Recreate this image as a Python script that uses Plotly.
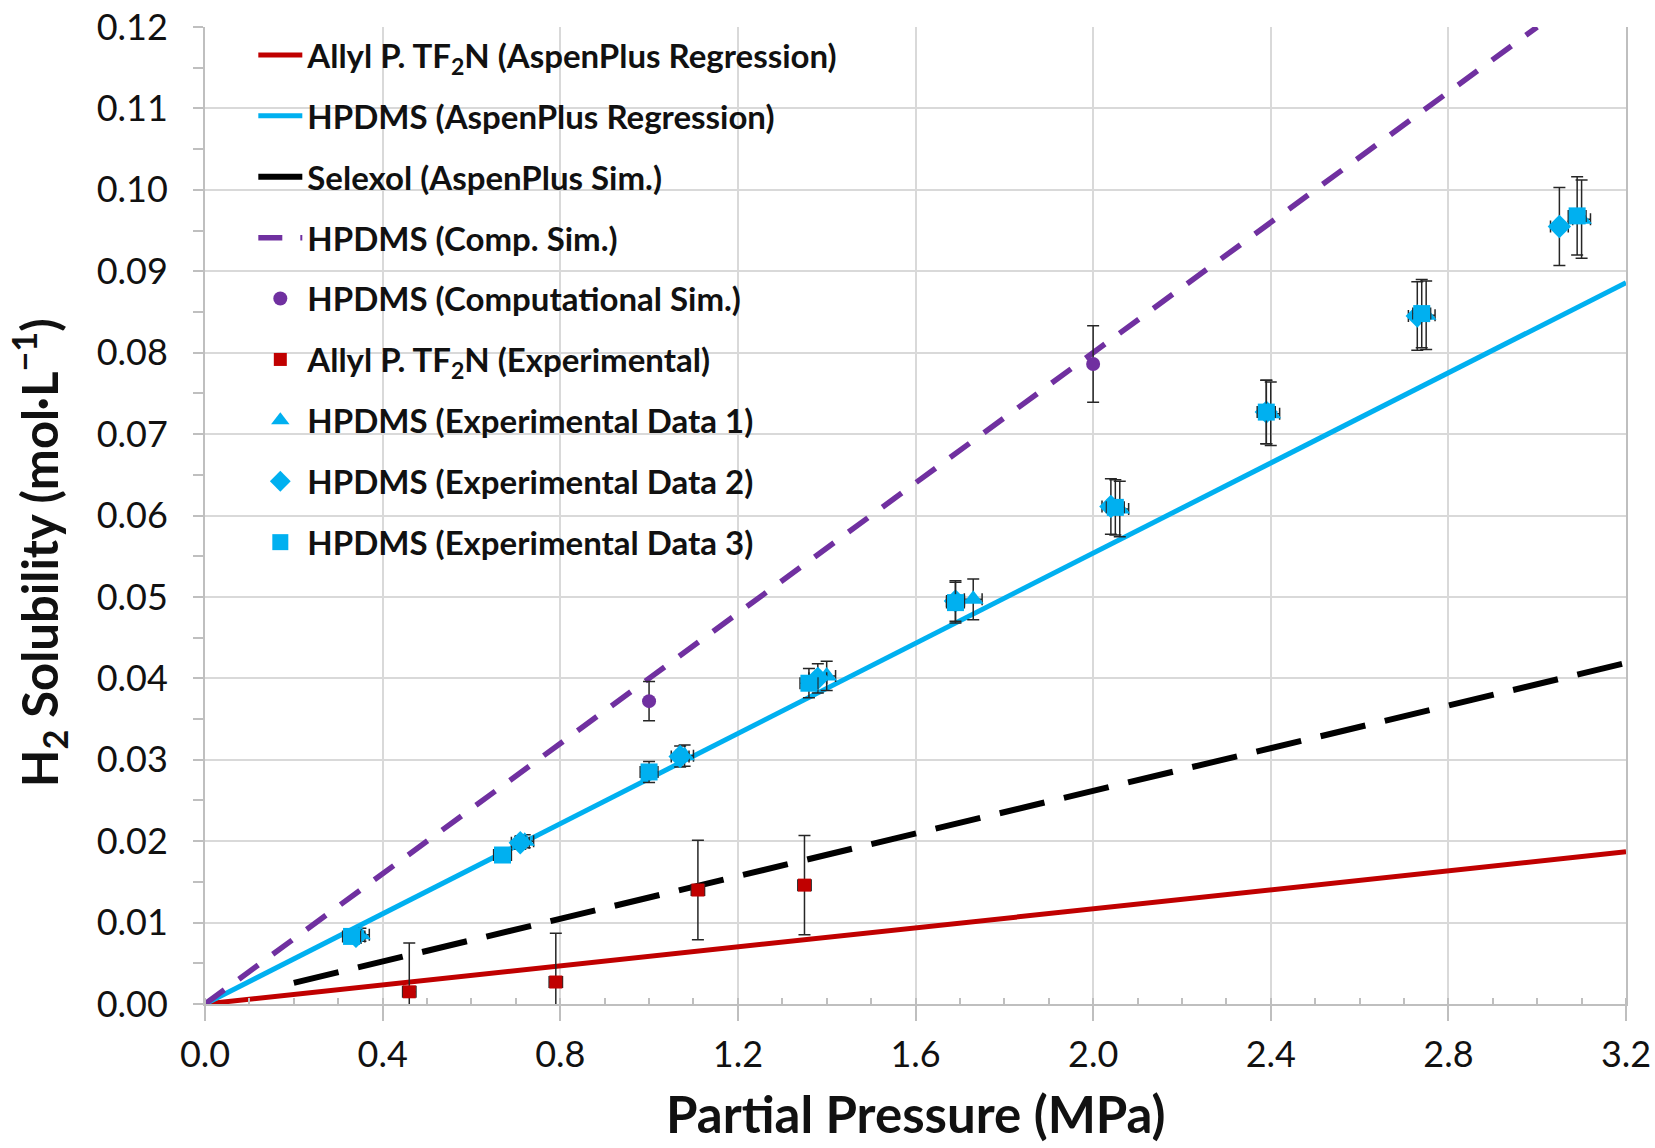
import plotly.graph_objects as go

# ---- data ----
allyl_reg_x = [0.0, 3.2]
allyl_reg_y = [0.0, 0.0187]
hpdms_reg_x = [0.0, 3.2]
hpdms_reg_y = [0.0, 0.0886]
selexol_x = [0.2, 3.2]
selexol_y = [0.0026, 0.0419]
comp_line_x = [0.0, 3.0]
comp_line_y = [0.0, 0.12]

comp_pts_x = [1.0, 2.0]
comp_pts_y = [0.0372, 0.0786]
comp_pts_err = [0.0024, 0.0047]

allyl_exp_x = [0.46, 0.79, 1.11, 1.35]
allyl_exp_y = [0.0015, 0.0027, 0.0140, 0.0146]
allyl_exp_yerr = [0.0060, 0.0060, 0.0061, 0.0061]
allyl_exp_xerr = [0.015, 0.015, 0.015, 0.015]

d1_x = [0.35, 0.72, 1.08, 1.40, 1.73, 2.06, 2.40, 2.75, 3.10]
d1_y = [0.0085, 0.0200, 0.0305, 0.0403, 0.0497, 0.0608, 0.0725, 0.0846, 0.0964]
d2_x = [0.34, 0.71, 1.07, 1.38, 1.69, 2.04, 2.39, 2.73, 3.05]
d2_y = [0.0083, 0.0198, 0.0304, 0.0400, 0.0495, 0.0611, 0.0727, 0.0845, 0.0955]
d3_x = [0.33, 0.67, 1.00, 1.36, 1.69, 2.05, 2.39, 2.74, 3.09]
d3_y = [0.0083, 0.0183, 0.0285, 0.0394, 0.0493, 0.0610, 0.0727, 0.0848, 0.0968]
d_yerr = [0.0008, 0.0008, 0.0013, 0.0018, 0.0025, 0.0034, 0.0039, 0.0042, 0.0048]
d_xerr = [0.02, 0.02, 0.02, 0.02, 0.02, 0.02, 0.02, 0.02, 0.02]

x_ticks = [0.0, 0.4, 0.8, 1.2, 1.6, 2.0, 2.4, 2.8, 3.2]
y_ticks = [0.00, 0.01, 0.02, 0.03, 0.04, 0.05, 0.06, 0.07, 0.08, 0.09, 0.10, 0.11, 0.12]

x_title = "Partial Pressure (MPa)"
y_title = "H<sub>2</sub> Solubility (mol·L<sup>−1</sup>)"

RED = "#C00000"
CYAN = "#00B0F0"
PURPLE = "#7030A0"
ERR = "#262626"

fig = go.Figure()

def err(vals):
    return dict(type="data", array=vals, visible=True, color=ERR, thickness=1.5, width=6)

fig.add_trace(go.Scatter(x=allyl_reg_x, y=allyl_reg_y, mode="lines",
                         name="Allyl P. TF<sub>2</sub>N (AspenPlus Regression)",
                         line=dict(color=RED, width=5), legendgroup="a"))
fig.add_trace(go.Scatter(x=hpdms_reg_x, y=hpdms_reg_y, mode="lines",
                         name="HPDMS (AspenPlus Regression)",
                         line=dict(color=CYAN, width=5), legendgroup="b"))
fig.add_trace(go.Scatter(x=selexol_x, y=selexol_y, mode="lines",
                         name="Selexol (AspenPlus Sim.)",
                         line=dict(color="black", width=6, dash="46px,20px"), legendgroup="c"))
fig.add_trace(go.Scatter(x=comp_line_x, y=comp_line_y, mode="lines",
                         name="HPDMS (Comp. Sim.)",
                         line=dict(color=PURPLE, width=5.5, dash="24px,18px"), legendgroup="d"))
fig.add_trace(go.Scatter(x=comp_pts_x, y=comp_pts_y, mode="markers",
                         name="HPDMS (Computational Sim.)",
                         marker=dict(color=PURPLE, size=14, symbol="circle"),
                         error_y=err(comp_pts_err), legendgroup="e"))
fig.add_trace(go.Scatter(x=allyl_exp_x, y=allyl_exp_y, mode="markers",
                         name="Allyl P. TF<sub>2</sub>N (Experimental)",
                         marker=dict(color=RED, size=13, symbol="square"),
                         error_y=err(allyl_exp_yerr), error_x=err(allyl_exp_xerr), legendgroup="f"))
fig.add_trace(go.Scatter(x=d1_x, y=d1_y, mode="markers",
                         name="HPDMS (Experimental Data 1)",
                         marker=dict(color=CYAN, size=18, symbol="triangle-up"),
                         error_y=err(d_yerr), error_x=err(d_xerr), legendgroup="g"))
fig.add_trace(go.Scatter(x=d2_x, y=d2_y, mode="markers",
                         name="HPDMS (Experimental Data 2)",
                         marker=dict(color=CYAN, size=18, symbol="diamond"),
                         error_y=err(d_yerr), error_x=err(d_xerr), legendgroup="h"))
fig.add_trace(go.Scatter(x=d3_x, y=d3_y, mode="markers",
                         name="HPDMS (Experimental Data 3)",
                         marker=dict(color=CYAN, size=17, symbol="square"),
                         error_y=err(d_yerr), error_x=err(d_xerr), legendgroup="i"))

fig.update_layout(
    width=1655, height=1148,
    margin=dict(l=205, r=29, t=27, b=144),
    plot_bgcolor="white", paper_bgcolor="white",
    font=dict(family="Lato", color="#111111"),
    showlegend=True,
    legend=dict(x=0.034, y=1.0, xanchor="left", yanchor="top",
                bgcolor="rgba(255,255,255,0)", borderwidth=0,
                font=dict(family="Lato", size=33, color="#111111", weight="bold"),
                traceorder="grouped", tracegroupgap=15, itemwidth=44),
    xaxis=dict(range=[0, 3.2], tickvals=x_ticks, ticktext=[f"{v:.1f}" for v in x_ticks],
               automargin=False,
               showgrid=True, gridcolor="#D9D9D9", gridwidth=2,
               zeroline=False, showline=True, linecolor="#BFBFBF", linewidth=2,
               ticks="outside", ticklen=15, tickcolor="#BFBFBF", tickwidth=2,
               minor=dict(dtick=0.1, ticks="inside", ticklen=6, tickcolor="#BFBFBF", tickwidth=2, showgrid=False),
               tickfont=dict(family="Lato", size=36, color="#111111"),
               ticklabelstandoff=3),
    yaxis=dict(range=[0, 0.12], tickvals=y_ticks, ticktext=[f"{v:.2f}" for v in y_ticks],
               automargin=False,
               showgrid=True, gridcolor="#D9D9D9", gridwidth=2,
               zeroline=False, showline=True, linecolor="#BFBFBF", linewidth=2, mirror=True,
               ticks="outside", ticklen=10, tickcolor="#BFBFBF", tickwidth=2,
               minor=dict(dtick=0.005, ticks="outside", ticklen=10, tickcolor="#BFBFBF", tickwidth=2, showgrid=False),
               tickfont=dict(family="Lato", size=36, color="#111111"),
               ticklabelstandoff=18),
    annotations=[
        dict(text=y_title, textangle=-90, xref="paper", yref="paper",
             x=-0.117, y=0.462, xanchor="center", yanchor="middle", showarrow=False,
             font=dict(family="Lato", size=49, color="#111111", weight="bold")),
        dict(text=x_title, xref="paper", yref="paper",
             x=0.5, y=-0.112, xanchor="center", yanchor="middle", showarrow=False,
             font=dict(family="Lato", size=51, color="#111111", weight="bold")),
    ],
)

fig.write_html("out.html")
